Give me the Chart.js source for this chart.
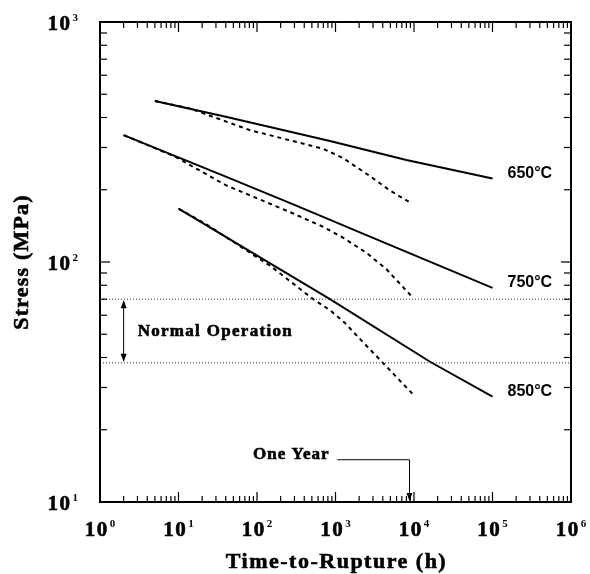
<!DOCTYPE html>
<html>
<head>
<meta charset="utf-8">
<script src="https://cdn.jsdelivr.net/npm/chart.js@4/dist/chart.umd.min.js"></script>
<style>
  html, body { margin: 0; background: #fff; }
  #wrap { width: 590px; height: 574px; }
</style>
</head>
<body>
<div id="wrap"><canvas id="chart" width="590" height="574"></canvas></div>
<script>
// ── Data (time in h, stress in MPa) ───────────────────────────────────────────
const solid650X  = [5, 40, 850, 8000, 100000];
const solid650Y  = [469, 403, 319, 266, 223];
const dashed650X = [5, 14, 80, 700, 1250, 2750, 5000, 9200];
const dashed650Y = [469, 436, 355, 296, 271, 228, 198, 176];

const solid750X  = [2, 40, 300, 3000, 100000];
const solid750Y  = [338, 227, 173, 126, 78];
const dashed750X = [2, 9, 40, 280, 700, 1260, 2500, 4500, 9300];
const dashed750Y = [338, 275, 209, 160, 140, 126, 109, 93, 72];

const solid850X  = [10, 850, 16000, 100000];
const solid850Y  = [167, 70, 38.4, 27.5];
const dashed850X = [10, 23, 150, 520, 850, 1300, 1900, 3900, 9800];
const dashed850Y = [167, 143, 96, 70, 63, 56, 49, 38.4, 28];

const tempLabels   = ['650°C', '750°C', '850°C'];
const normalOp     = [70, 38];      // MPa, upper and lower bound
const normalOpAt   = 2;             // h, where the double arrow sits
const oneYear      = 8760;          // h
const oneYearLevel = 15;            // MPa, height of the leader line

const xExps = [0, 1, 2, 3, 4, 5, 6];
const yExps = [1, 2, 3];

// ── Helpers ──────────────────────────────────────────────────────────────────
const pts = (xs, ys) => xs.map((x, i) => ({ x, y: ys[i] }));

const solid  = (xs, ys) => ({ data: pts(xs, ys), borderColor: '#000', borderWidth: 2, pointRadius: 0, showLine: true });
const dashed = (xs, ys) => ({ data: pts(xs, ys), borderColor: '#000', borderWidth: 2, borderDash: [4, 4], pointRadius: 0, showLine: true });
const dotted = (v)      => ({ data: pts([1, 1e6], [v, v]), borderColor: '#333', borderWidth: 1, borderDash: [1, 2], pointRadius: 0, showLine: true });

const SERIF = '"Liberation Serif", "Times New Roman", serif';

function line(ctx, x1, y1, x2, y2) {
  ctx.beginPath(); ctx.moveTo(x1, y1); ctx.lineTo(x2, y2); ctx.stroke();
}

// heavy text, a bit like the scanned original
function heavyText(ctx, text, x, y) {
  ctx.fillText(text, x, y);
  ctx.lineWidth = 0.6;
  ctx.strokeText(text, x, y);
}

function arrowHead(ctx, x, y, dir) {
  ctx.beginPath();
  ctx.moveTo(x, y);
  ctx.lineTo(x - 3, y - dir * 8);
  ctx.lineTo(x + 3, y - dir * 8);
  ctx.closePath();
  ctx.fill();
}

function powerLabel(ctx, exp, x, y, align) {
  ctx.font = `bold 21px ${SERIF}`;
  ctx.letterSpacing = '1.5px';
  const wBase = ctx.measureText('10').width;
  ctx.font = `bold 11px ${SERIF}`;
  ctx.letterSpacing = '0px';
  const wSup = ctx.measureText(String(exp)).width;
  const total = wBase + 1 + wSup;
  const left = align === 'right' ? x - total : x - total / 2;
  ctx.textAlign = 'left';
  ctx.textBaseline = 'alphabetic';
  ctx.font = `bold 21px ${SERIF}`;
  ctx.letterSpacing = '1.5px';
  heavyText(ctx, '10', left, y);
  ctx.font = `bold 11px ${SERIF}`;
  ctx.letterSpacing = '0px';
  ctx.fillText(String(exp), left + wBase + 1, y - 9);
}

// ── Plugin: frame, inward ticks, labels, annotations ─────────────────────────
const decorations = {
  id: 'decorations',
  afterDatasetsDraw(chart) {
    const { ctx, chartArea: a, scales: { x, y } } = chart;
    ctx.save();
    ctx.strokeStyle = '#000';
    ctx.fillStyle = '#000';

    // frame
    ctx.lineWidth = 2;
    ctx.strokeRect(a.left, a.top, a.right - a.left, a.bottom - a.top);

    // x ticks (bottom and top)
    ctx.lineWidth = 1.2;
    for (let d = 0; d < 6; d++) {
      for (let k = 1; k <= 9; k++) {
        const px = x.getPixelForValue(k * 10 ** d);
        const len = k === 1 ? 10 : 6;
        line(ctx, px, a.bottom, px, a.bottom - len);
        line(ctx, px, a.top, px, a.top + len);
      }
    }
    // y ticks (left and right)
    for (let d = 1; d < 3; d++) {
      for (let k = 1; k <= 9; k++) {
        const py = y.getPixelForValue(k * 10 ** d);
        const len = k === 1 ? 10 : 7;
        line(ctx, a.left, py, a.left + len, py);
        line(ctx, a.right, py, a.right - len, py);
      }
    }

    // tick labels
    xExps.forEach((e) => powerLabel(ctx, e, x.getPixelForValue(10 ** e), a.bottom + 34, 'center'));
    yExps.forEach((e) => powerLabel(ctx, e, a.left - 22, y.getPixelForValue(10 ** e) + 8, 'right'));

    // axis titles
    ctx.font = `bold 22px ${SERIF}`;
    ctx.letterSpacing = '1.5px';
    ctx.textAlign = 'center';
    ctx.textBaseline = 'middle';
    heavyText(ctx, 'Time-to-Rupture (h)', (a.left + a.right) / 2 + 1, 562);
    ctx.save();
    ctx.translate(22, (a.top + a.bottom) / 2);
    ctx.rotate(-Math.PI / 2);
    ctx.letterSpacing = '1.2px';
    heavyText(ctx, 'Stress (MPa)', 0, 0);
    ctx.restore();

    // temperature labels at the end of the solid curves
    ctx.font = 'bold 16px "Liberation Sans", Arial, sans-serif';
    ctx.letterSpacing = '0px';
    ctx.textAlign = 'left';
    [[solid650X, solid650Y], [solid750X, solid750Y], [solid850X, solid850Y]].forEach(([xs, ys], i) => {
      const px = x.getPixelForValue(xs[xs.length - 1]);
      const py = y.getPixelForValue(ys[ys.length - 1]);
      ctx.fillText(tempLabels[i], px + 15, py - 5);
    });

    // normal operation double arrow
    ctx.lineWidth = 1;
    const ax = x.getPixelForValue(normalOpAt);
    const yTop = y.getPixelForValue(normalOp[0]);
    const yBot = y.getPixelForValue(normalOp[1]);
    line(ctx, ax, yTop + 2, ax, yBot - 2);
    arrowHead(ctx, ax, yTop + 1, -1);
    arrowHead(ctx, ax, yBot - 1, 1);
    ctx.font = `bold 17px ${SERIF}`;
    ctx.letterSpacing = '1.3px';
    ctx.textBaseline = 'middle';
    heavyText(ctx, 'Normal Operation', ax + 14, (yTop + yBot) / 2 + 1);

    // one year leader
    ctx.lineWidth = 1;
    const lx = x.getPixelForValue(oneYear);
    const ly = y.getPixelForValue(oneYearLevel);
    line(ctx, lx - 72, ly, lx, ly);
    line(ctx, lx, ly, lx, a.bottom - 6);
    arrowHead(ctx, lx, a.bottom - 1, 1);
    ctx.font = `bold 17px ${SERIF}`;
    ctx.letterSpacing = '1px';
    ctx.textAlign = 'right';
    heavyText(ctx, 'One Year', lx - 80, ly - 5);

    ctx.restore();
  },
};

// ── Chart ────────────────────────────────────────────────────────────────────
new Chart(document.getElementById('chart'), {
  type: 'scatter',
  data: {
    datasets: [
      dotted(normalOp[0]),
      dotted(normalOp[1]),
      dashed(dashed650X, dashed650Y),
      dashed(dashed750X, dashed750Y),
      dashed(dashed850X, dashed850Y),
      solid(solid650X, solid650Y),
      solid(solid750X, solid750Y),
      solid(solid850X, solid850Y),
    ],
  },
  options: {
    responsive: false,
    animation: false,
    devicePixelRatio: 1,
    layout: { padding: { top: 22, right: 19, left: 0, bottom: 0 } },
    plugins: { legend: { display: false }, tooltip: { enabled: false } },
    scales: {
      x: {
        type: 'logarithmic', min: 1, max: 1e6,
        ticks: { display: false }, grid: { display: false }, border: { display: false },
        afterFit: (s) => { s.height = 72; },
      },
      y: {
        type: 'logarithmic', min: 10, max: 1000,
        ticks: { display: false }, grid: { display: false }, border: { display: false },
        afterFit: (s) => { s.width = 100; },
      },
    },
  },
  plugins: [decorations],
});
</script>
</body>
</html>
